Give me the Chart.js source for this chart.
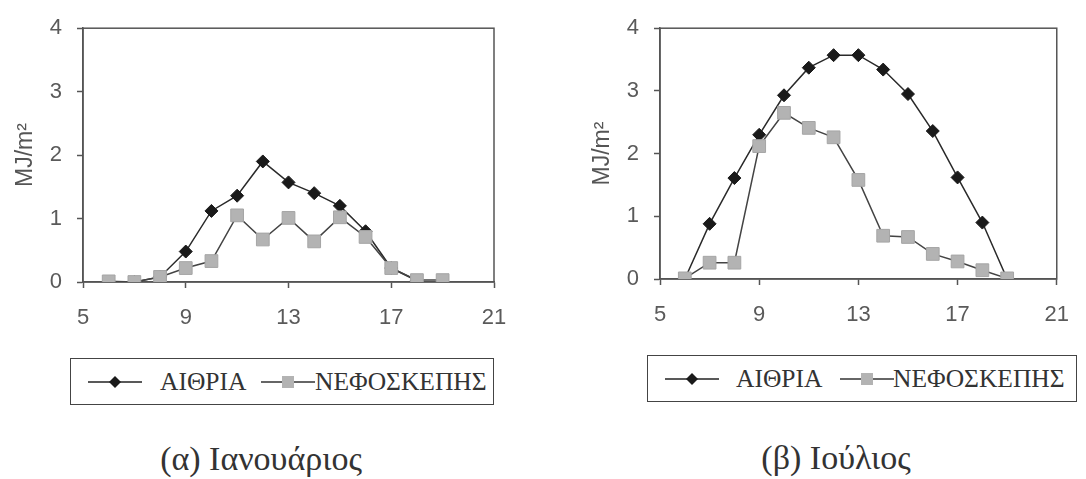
<!DOCTYPE html>
<html>
<head>
<meta charset="utf-8">
<script src="https://cdn.jsdelivr.net/npm/chart.js@4"></script>
<style>
  body { margin: 0; background: #fff; width: 1086px; height: 479px; position: relative; overflow: hidden; }
  .wrap { position: absolute; }
  .legend { position: absolute; border: 1.5px solid #444; box-sizing: border-box; height: 47px;
            font-family: "Liberation Serif", serif; font-size: 25.5px; color: #333; }
  .legend span, .legend svg { position: absolute; }
  .legend span { top: 50%; transform: translateY(-50%); line-height: 1; }
  .legend svg { top: 16px; }
  .caption { position: absolute; font-family: "Liberation Serif", serif; font-size: 34px; color: #333;
             transform: translate(-50%, -50%); white-space: nowrap; }
</style>
</head>
<body>

<div class="wrap" style="left:0;top:0;width:543px;height:340px"><canvas id="janChart"></canvas></div>
<div class="wrap" style="left:577px;top:0;width:509px;height:340px"><canvas id="julChart"></canvas></div>

<div class="legend" style="left:70px;top:358px;width:424px">
  <svg width="54" height="14" style="left:17px"><line x1="0" y1="7" x2="54" y2="7" stroke="#222" stroke-width="1.5"/><polygon points="27,1 33,7 27,13 21,7" fill="#1a1a1a"/></svg>
  <span style="left:89px">ΑΙΘΡΙΑ</span>
  <svg width="54" height="14" style="left:190px"><line x1="0" y1="7" x2="54" y2="7" stroke="#333" stroke-width="1.5"/><rect x="21" y="1" width="12" height="12" fill="#b3b3b3"/></svg>
  <span style="left:244px">ΝΕΦΟΣΚΕΠΗΣ</span>
</div>
<div class="legend" style="left:647px;top:355px;width:430px">
  <svg width="54" height="14" style="left:17px"><line x1="0" y1="7" x2="54" y2="7" stroke="#222" stroke-width="1.5"/><polygon points="27,1 33,7 27,13 21,7" fill="#1a1a1a"/></svg>
  <span style="left:88px">ΑΙΘΡΙΑ</span>
  <svg width="54" height="14" style="left:192px"><line x1="0" y1="7" x2="54" y2="7" stroke="#333" stroke-width="1.5"/><rect x="21" y="1" width="12" height="12" fill="#b3b3b3"/></svg>
  <span style="left:245px">ΝΕΦΟΣΚΕΠΗΣ</span>
</div>

<div class="caption" style="left:261px;top:459px">(α) Ιανουάριος</div>
<div class="caption" style="left:836px;top:458px">(β) Ιούλιος</div>

<script>
const hours = [6, 7, 8, 9, 10, 11, 12, 13, 14, 15, 16, 17, 18, 19];

// Ιανουάριος
const janClear  = [null, 0, 0.08, 0.48, 1.12, 1.36, 1.9, 1.57, 1.4, 1.2, 0.8, 0.22, 0.02, null];
const janCloudy = [0.01, 0, 0.08, 0.22, 0.33, 1.05, 0.67, 1.01, 0.64, 1.02, 0.71, 0.22, 0.03, 0.03];

// Ιούλιος
const julClear  = [0, 0.88, 1.61, 2.3, 2.93, 3.37, 3.57, 3.57, 3.34, 2.95, 2.36, 1.62, 0.9, 0];
const julCloudy = [0.01, 0.26, 0.26, 2.12, 2.65, 2.41, 2.26, 1.58, 0.69, 0.67, 0.4, 0.28, 0.14, 0.01];

const seriesNames = ['ΑΙΘΡΙΑ', 'ΝΕΦΟΣΚΕΠΗΣ'];
const xTicks = [5, 9, 13, 17, 21];
const yTicks = [0, 1, 2, 3, 4];
const yTitle = 'MJ/m²';

const toPoints = vals => hours.map((h, i) => ({ x: h, y: vals[i] }));

// frame round the plot area (top and right sides)
const framePlugin = {
    id: 'frame',
    beforeDatasetsDraw(chart) {
        const a = chart.chartArea;
        const ctx = chart.ctx;
        ctx.save();
        ctx.strokeStyle = '#555';
        ctx.lineWidth = 1.5;
        ctx.strokeRect(a.left, a.top, a.right - a.left, a.bottom - a.top);
        ctx.restore();
    }
};

function makeChart(id, clear, cloudy, g) {
    const ctx = document.getElementById(id);
    return new Chart(ctx, {
        type: 'line',
        data: {
            datasets: [{
                label: seriesNames[0],
                data: toPoints(clear),
                borderColor: '#2a2a2a',
                borderWidth: 1.5,
                pointStyle: 'rectRot',
                pointRadius: 6.5,
                pointBackgroundColor: '#1a1a1a',
                pointBorderColor: '#1a1a1a',
                pointBorderWidth: 1,
                order: 1
            }, {
                label: seriesNames[1],
                data: toPoints(cloudy),
                borderColor: '#444',
                borderWidth: 1.5,
                pointStyle: 'rect',
                pointRadius: 9,
                pointBackgroundColor: '#b3b3b3',
                pointBorderColor: '#a5a5a5',
                pointBorderWidth: 1,
                order: 0
            }]
        },
        options: {
            responsive: true,
            maintainAspectRatio: false,
            animation: false,
            layout: { padding: { left: 0, top: g.top, right: g.right, bottom: 0 } },
            plugins: { legend: { display: false }, tooltip: { enabled: false } },
            scales: {
                x: {
                    type: 'linear',
                    min: 5, max: 21,
                    afterBuildTicks: s => { s.ticks = xTicks.map(v => ({ value: v })); },
                    afterFit: s => { s.height = g.xHeight; },
                    grid: { drawOnChartArea: false, drawTicks: true, tickLength: 6, tickColor: '#555', tickWidth: 1.5 },
                    border: { display: true, color: '#555', width: 1.5 },
                    ticks: { color: '#5a5a5a', padding: 17, font: { family: 'Liberation Sans', size: 22 } }
                },
                y: {
                    min: 0, max: 4,
                    afterBuildTicks: s => { s.ticks = yTicks.map(v => ({ value: v })); },
                    afterFit: s => { s.width = g.yWidth; },
                    grid: { drawOnChartArea: false, drawTicks: true, tickLength: 6, tickColor: '#555', tickWidth: 1.5 },
                    border: { display: true, color: '#555', width: 1.5 },
                    ticks: { color: '#5a5a5a', padding: 15, font: { family: 'Liberation Sans', size: 22 } },
                    title: {
                        display: true,
                        text: yTitle,
                        color: '#555',
                        padding: { top: 12, bottom: 0 },
                        font: { family: 'Liberation Sans', size: 23 }
                    }
                }
            }
        },
        plugins: [framePlugin]
    });
}

makeChart('janChart', janClear, janCloudy, { top: 20, right: 49, xHeight: 58, yWidth: 83 });
makeChart('julChart', julClear, julCloudy, { top: 16, right: 18, xHeight: 61, yWidth: 83 });
</script>
</body>
</html>
